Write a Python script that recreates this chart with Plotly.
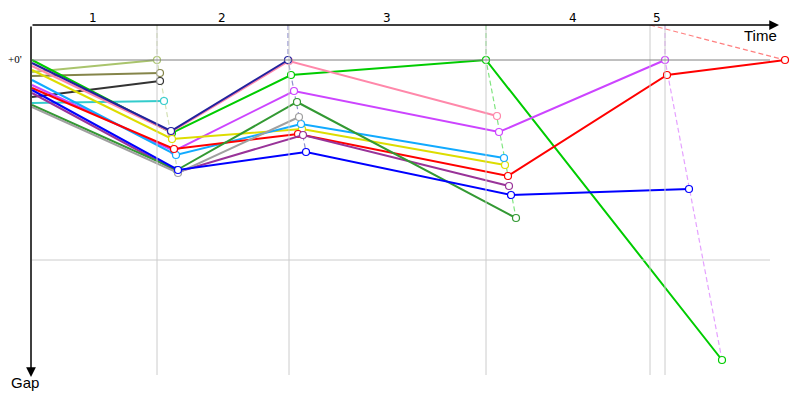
import plotly.graph_objects as go

# ---- data: elapsed time (min) and gap to leader (min) at each checkpoint ----
names = ["A", "B", "C", "D", "E", "F", "G", "H", "I", "J", "K", "L", "M", "N", "O"]
colors = ["#a9c46c", "#85854a", "#333333", "#33cccc", "#22229e", "#ff88aa", "#00cc00",
          "#cc44ff", "#ff0000", "#11aaff", "#dddd00", "#339933", "#993399", "#a0a0a0", "#0000ff"]

time_A = [0, 125];            gap_A = [2.4, 0.0]
time_B = [0, 128];            gap_B = [3.2, 2.6]
time_C = [0, 128];            gap_C = [7.4, 4.2]
time_D = [0, 132];            gap_D = [8.6, 8.2]
time_E = [0, 139, 256];       gap_E = [0.6, 14.2, 0.0]
time_F = [0, 139, 257, 465];  gap_F = [1.2, 14.4, 0.2, 11.2]
time_G = [0, 140, 259, 454, 690];      gap_G = [0.0, 14.6, 3.0, 0.0, 60.0]
time_H = [0, 142, 262, 467, 633];      gap_H = [5.0, 18.2, 6.2, 14.4, 0.0]
time_I = [0, 142, 266, 476, 635, 753]; gap_I = [5.6, 17.8, 14.8, 23.2, 3.0, 0.0]
time_J = [0, 144, 269, 472];  gap_J = [4.0, 19.0, 12.8, 19.6]
time_K = [0, 140, 270, 473];  gap_K = [2.0, 15.8, 13.8, 21.0]
time_L = [0, 145, 265, 484];  gap_L = [9.0, 22.0, 8.4, 31.6]
time_M = [0, 146, 271, 477];  gap_M = [6.6, 22.4, 15.0, 25.2]
time_N = [0, 146, 267];       gap_N = [9.4, 22.6, 11.4]
time_O = [0, 146, 274, 479, 657];      gap_O = [6.0, 22.0, 18.4, 27.0, 25.8]

lap_marks = [125, 257, 454, 618, 633]          # vertical grid (checkpoint times)
guide_top = [125, 256, 454, 633, 618]          # where each checkpoint guide leaves the top
lap_labels = ["1", "2", "3", "4", "5"]
lap_label_t = [61, 190, 355, 541, 625]
gap_grid = [0, 40]

times = [time_A, time_B, time_C, time_D, time_E, time_F, time_G, time_H, time_I,
         time_J, time_K, time_L, time_M, time_N, time_O]
gaps = [gap_A, gap_B, gap_C, gap_D, gap_E, gap_F, gap_G, gap_H, gap_I,
        gap_J, gap_K, gap_L, gap_M, gap_N, gap_O]

T0, T1 = -1, 768
G_TOP, G_BOT = -7, 65


def px(t):
    return (t - T0) / (T1 - T0)


def py(g):
    return (G_BOT - g) / (G_BOT - G_TOP)


def lighten(hexc, a):
    h = hexc.lstrip("#")
    r, g, b = int(h[0:2], 16), int(h[2:4], 16), int(h[4:6], 16)
    return f"rgba({r},{g},{b},{a})"


fig = go.Figure()

# grid
for t in lap_marks:
    fig.add_shape(type="line", x0=t, x1=t, y0=G_TOP, y1=63, line=dict(color="#cccccc", width=1))
for gv, col in zip(gap_grid, ["#808080", "#cccccc"]):
    fig.add_shape(type="line", x0=0, x1=738, y0=gv, y1=gv, line=dict(color=col, width=1))

# checkpoint guides (dashed) built from series points
n_cp = max(len(t) for t in times)
for k in range(1, n_cp):
    pts = [(times[i][k], gaps[i][k], colors[i]) for i in range(len(times)) if len(times[i]) > k]
    leader = min(pts, key=lambda p: (p[1], p[0]))
    trailer = max(pts, key=lambda p: p[1])
    xs = [guide_top[k - 1], leader[0]]
    ys = [G_TOP, leader[1]]
    if trailer is not leader:
        xs.append(trailer[0]); ys.append(trailer[1])
    fig.add_trace(go.Scatter(x=xs, y=ys, mode="lines", hoverinfo="skip",
                             line=dict(color=lighten(leader[2], 0.5), width=1.2, dash="5px,3px")))

order = [0, 1, 2, 3, 6, 5, 4, 7, 10, 9, 8, 12, 11, 13, 14]
for i in order:
    n = len(times[i])
    fig.add_trace(go.Scatter(
        x=times[i], y=gaps[i], mode="lines+markers", name=names[i],
        line=dict(color=colors[i], width=2),
        marker=dict(symbol="circle", size=7, color="white",
                    opacity=[0] + [1] * (n - 1),
                    line=dict(color=colors[i], width=1.2)),
    ))

# axes with arrows
fig.add_annotation(x=747, y=G_TOP, ax=T0, ay=G_TOP, axref="x", ayref="y", xref="x", yref="y",
                   text="", showarrow=True, arrowhead=2, arrowsize=1.3, arrowwidth=1.5,
                   arrowcolor="black", standoff=0, startstandoff=0)
fig.add_annotation(x=T0, y=63.4, ax=T0, ay=G_TOP, axref="x", ayref="y", xref="x", yref="y",
                   text="", showarrow=True, arrowhead=2, arrowsize=1.3, arrowwidth=1.5,
                   arrowcolor="black", standoff=0, startstandoff=0)

common = dict(xref="paper", yref="paper", showarrow=False, xanchor="center", yanchor="middle")
fig.add_annotation(x=px(728), y=py(-5), text="Time",
                   font=dict(family="Liberation Sans", size=15, color="black"), **common)
fig.add_annotation(x=px(-7), y=py(64.6), text="Gap",
                   font=dict(family="Liberation Sans", size=15, color="black"), **common)
fig.add_annotation(x=px(-17), y=py(-0.2), text="+0'",
                   font=dict(family="Liberation Serif", size=11, color="black"), **common)
for lab, t in zip(lap_labels, lap_label_t):
    fig.add_annotation(x=px(t), y=py(-8.4), text=lab,
                       font=dict(family="DejaVu Sans", size=12, color="black"), **common)

fig.update_layout(
    width=800, height=400,
    margin=dict(l=31, r=0, t=25, b=15),
    paper_bgcolor="white", plot_bgcolor="white",
    showlegend=False,
    xaxis=dict(range=[T0, T1], visible=False, fixedrange=True),
    yaxis=dict(range=[G_BOT, G_TOP], visible=False, fixedrange=True),
)

fig.write_html("out.html", config={"displayModeBar": False},
               post_script="document.body.style.margin='0';")
